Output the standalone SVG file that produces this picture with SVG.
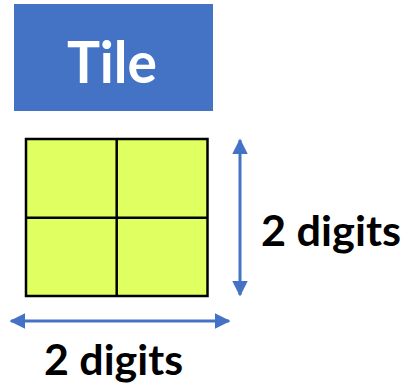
<svg xmlns="http://www.w3.org/2000/svg" width="411" height="388" viewBox="0 0 411 388">
  <style>
    .lbl { font-family: Lato, "Open Sans", "Liberation Sans", sans-serif; font-weight: 700; }
    .cell { fill: #E0FF60; stroke: #000; stroke-width: 2.5; }
    .dim { stroke: #4472C4; stroke-width: 3; fill: none; }
  </style>
  <defs>
    <marker id="arrow" viewBox="0 0 10 10" refX="9" refY="5" markerWidth="5.2" markerHeight="5.2" orient="auto-start-reverse" markerUnits="strokeWidth">
      <path d="M0,0 L10,5 L0,10 Z" fill="#4472C4"/>
    </marker>
  </defs>

  <!-- title banner -->
  <g id="title">
    <rect x="14" y="4" width="199" height="107" fill="#4472C4"/>
    <text class="lbl" x="112" y="83" font-size="57" fill="#fff" text-anchor="middle" textLength="90" lengthAdjust="spacingAndGlyphs">Tile</text>
  </g>

  <!-- 2x2 tile grid -->
  <g id="tile">
    <rect class="cell" x="26" y="139" width="181.5" height="157"/>
    <line x1="116.7" y1="139" x2="116.7" y2="296" stroke="#000" stroke-width="2.5"/>
    <line x1="26" y1="217.7" x2="207.5" y2="217.7" stroke="#000" stroke-width="2.5"/>
  </g>

  <!-- dimension arrows -->
  <g id="connectors">
    <line class="dim" x1="240" y1="140" x2="240" y2="295" marker-start="url(#arrow)" marker-end="url(#arrow)"/>
    <line class="dim" x1="11" y1="321" x2="229" y2="321" marker-start="url(#arrow)" marker-end="url(#arrow)"/>
  </g>

  <g id="label-height">
    <text class="lbl" x="261" y="246" font-size="42" fill="#000" textLength="140" lengthAdjust="spacingAndGlyphs">2 digits</text>
  </g>
  <g id="label-width">
    <text class="lbl" x="44" y="375" font-size="42" fill="#000" textLength="139" lengthAdjust="spacingAndGlyphs">2 digits</text>
  </g>
</svg>
